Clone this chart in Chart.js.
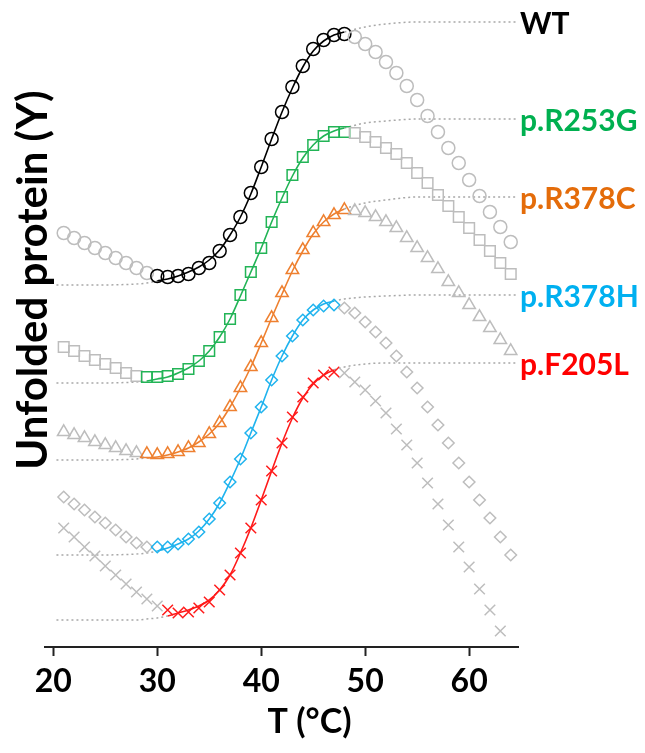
<!DOCTYPE html>
<html>
<head>
<meta charset="utf-8">
<script src="https://cdn.jsdelivr.net/npm/chart.js@4.4.0/dist/chart.umd.min.js"></script>
<style>
  html, body { margin: 0; padding: 0; background: #fff; }
  #wrap { width: 645px; height: 753px; }
</style>
</head>
<body>
<div id="wrap"><canvas id="myChart"></canvas></div>
<script>
// one reading per degree, starting at 21 C
var firstT = 21;

var seriesNames = ['WT', 'p.R253G', 'p.R378C', 'p.R378H', 'p.F205L'];
// temperature window used for the fit (coloured part)
var fitRanges = [[30, 48], [29, 48], [29, 48], [30, 47], [31, 47]];

// measured points (arbitrary units, curves are offset)
var wtPoints = [4.14, 4.09, 4.04, 3.99, 3.94, 3.89, 3.84, 3.79, 3.74,
    3.71, 3.70, 3.71, 3.73, 3.79, 3.84, 3.96, 4.12, 4.30, 4.54, 4.80, 5.08, 5.35, 5.60, 5.81, 5.98, 6.07, 6.12, 6.13,
    6.10, 6.03, 5.95, 5.85, 5.74, 5.61, 5.47, 5.31, 5.15, 4.99, 4.84, 4.67, 4.51, 4.35, 4.20, 4.05];
var r253gPoints = [3.00, 2.96, 2.91, 2.87, 2.83, 2.79, 2.74, 2.71,
    2.70, 2.70, 2.71, 2.73, 2.78, 2.86, 2.96, 3.10, 3.28, 3.52, 3.75, 3.99, 4.25, 4.50, 4.72, 4.90, 5.02, 5.11, 5.15, 5.15,
    5.14, 5.10, 5.05, 4.99, 4.93, 4.84, 4.74, 4.64, 4.52, 4.41, 4.30, 4.19, 4.07, 3.96, 3.84, 3.73];
var r378cPoints = [2.15, 2.12, 2.09, 2.05, 2.02, 1.99, 1.96, 1.94,
    1.93, 1.92, 1.93, 1.95, 1.99, 2.04, 2.13, 2.24, 2.40, 2.59, 2.80, 3.04, 3.29, 3.54, 3.77, 3.97, 4.14, 4.25, 4.32, 4.37,
    4.36, 4.34, 4.30, 4.25, 4.19, 4.09, 3.99, 3.89, 3.78, 3.65, 3.54, 3.42, 3.30, 3.19, 3.07, 2.96];
var r378hPoints = [1.50, 1.43, 1.37, 1.30, 1.24, 1.17, 1.10, 1.04, 1.00,
    1.00, 1.00, 1.03, 1.08, 1.15, 1.28, 1.44, 1.65, 1.88, 2.14, 2.40, 2.67, 2.91, 3.11, 3.27, 3.37, 3.41, 3.42,
    3.39, 3.34, 3.25, 3.15, 3.04, 2.91, 2.75, 2.59, 2.40, 2.22, 2.04, 1.84, 1.65, 1.47, 1.29, 1.10, 0.92];
var f205lPoints = [1.19, 1.10, 1.00, 0.91, 0.81, 0.72, 0.63, 0.55, 0.48, 0.41,
    0.37, 0.34, 0.35, 0.39, 0.45, 0.57, 0.72, 0.94, 1.19, 1.47, 1.76, 2.04, 2.30, 2.50, 2.64, 2.72, 2.75,
    2.74, 2.65, 2.57, 2.46, 2.34, 2.18, 2.02, 1.84, 1.64, 1.43, 1.22, 1.00, 0.80, 0.58, 0.37, 0.16];

var fitTemps = [20.3, 24, 28, 29, 30, 31, 32, 33, 34, 35, 36, 37, 38, 39, 40, 41, 42, 43, 44, 45, 46, 47, 48, 50, 52, 55, 60, 64.6];
var wtFit = [3.62, 3.62, 3.63, 3.64, 3.66, 3.68, 3.71, 3.75, 3.80, 3.87, 3.97, 4.12, 4.30, 4.53, 4.80, 5.08, 5.35, 5.59, 5.80, 5.96, 6.06, 6.12, 6.15, 6.20, 6.23, 6.25, 6.25, 6.25];
var r253gFit = [2.64, 2.64, 2.65, 2.66, 2.68, 2.70, 2.74, 2.79, 2.86, 2.96, 3.10, 3.28, 3.51, 3.75, 3.99, 4.25, 4.49, 4.71, 4.89, 5.02, 5.11, 5.16, 5.19, 5.24, 5.26, 5.28, 5.28, 5.28];
var r378cFit = [1.87, 1.87, 1.88, 1.89, 1.90, 1.92, 1.95, 1.99, 2.05, 2.13, 2.24, 2.40, 2.59, 2.80, 3.04, 3.29, 3.53, 3.76, 3.96, 4.13, 4.25, 4.33, 4.38, 4.44, 4.47, 4.50, 4.50, 4.50];
var r378hFit = [0.92, 0.92, 0.93, 0.94, 0.96, 0.99, 1.03, 1.08, 1.16, 1.28, 1.44, 1.65, 1.88, 2.14, 2.40, 2.67, 2.91, 3.11, 3.27, 3.37, 3.43, 3.46, 3.48, 3.50, 3.51, 3.52, 3.52, 3.52];
var f205lFit = [0.27, 0.27, 0.27, 0.28, 0.29, 0.31, 0.34, 0.37, 0.41, 0.47, 0.57, 0.72, 0.94, 1.19, 1.47, 1.76, 2.04, 2.29, 2.49, 2.63, 2.72, 2.77, 2.80, 2.83, 2.84, 2.84, 2.84, 2.84];

// look
var lineColors = ['#000000', '#22B456', '#EE8030', '#1FB3EE', '#FF1A1A'];
var labelColors = ['#000000', '#00B050', '#E46C0A', '#00B0F0', '#FF0000'];
var pointStyles = ['circle', 'rect', 'triangle', 'rectRot', 'crossRot'];
var pointSizes = [6.5, 7.5, 7.2, 5.8, 7.5];
var markGray = '#BDBDBD';
var dotGray = '#A8A8A8';
var fontName = 'Lato';

var allPoints = [wtPoints, r253gPoints, r378cPoints, r378hPoints, f205lPoints];
var allFits = [wtFit, r253gFit, r378cFit, r378hFit, f205lFit];

var datasets = [];
for (let i = 0; i < seriesNames.length; i++) {
    let lo = fitRanges[i][0], hi = fitRanges[i][1];
    let col = lineColors[i];
    let inFit = c => c.p0.parsed.x >= lo && c.p1.parsed.x <= hi;

    datasets.push({
        label: seriesNames[i] + ' fit',
        data: fitTemps.map((t, j) => ({ x: t, y: allFits[i][j] })),
        pointRadius: 0,
        borderWidth: 1.6,
        borderColor: dotGray,
        fill: false,
        cubicInterpolationMode: 'monotone',
        segment: {
            borderColor: c => inFit(c) ? col : dotGray,
            borderDash: c => inFit(c) ? [] : [2, 3],
            borderWidth: c => inFit(c) ? 1.6 : 1.5
        },
        order: 2
    });

    datasets.push({
        label: seriesNames[i],
        data: allPoints[i].map((v, j) => ({ x: firstT + j, y: v })),
        showLine: false,
        pointStyle: pointStyles[i],
        pointRadius: pointSizes[i],
        pointBorderWidth: 1.5,
        pointBackgroundColor: 'rgba(0,0,0,0)',
        pointBorderColor: c => {
            let t = c.raw ? c.raw.x : 0;
            return (t >= lo && t <= hi) ? col : markGray;
        },
        order: 1
    });
}

// series names at the right end of each fit + the two axis titles
var labelsPlugin = {
    id: 'labelsPlugin',
    afterDraw: function(chart) {
        var ctx = chart.ctx;
        var area = chart.chartArea;
        var y = chart.scales.y;
        ctx.save();
        ctx.textAlign = 'left';
        ctx.textBaseline = 'middle';
        ctx.font = 'bold 30px ' + fontName;
        for (var i = 0; i < seriesNames.length; i++) {
            var fit = allFits[i];
            ctx.fillStyle = labelColors[i];
            ctx.fillText(seriesNames[i], area.right + 2, y.getPixelForValue(fit[fit.length - 1]) + 2);
        }

        ctx.fillStyle = '#000';
        ctx.textAlign = 'center';
        ctx.font = 'bold 34px ' + fontName;
        ctx.fillText('T (°C)', (area.left + area.right) / 2 + 28, 722);

        ctx.translate(33, 280);
        ctx.rotate(-Math.PI / 2);
        ctx.font = 'bold 42px ' + fontName;
        ctx.fillText('Unfolded protein (Y)', 0, 0);
        ctx.restore();
    }
};

var ctx = document.getElementById('myChart').getContext('2d');
var chart = new Chart(ctx, {
    type: 'line',
    data: { datasets: datasets },
    options: {
        responsive: true,
        maintainAspectRatio: false,
        animation: false,
        layout: { padding: { left: 45, right: 127, top: 17, bottom: 0 } },
        plugins: {
            legend: { display: false },
            tooltip: { enabled: false }
        },
        scales: {
            x: {
                type: 'linear',
                min: 19.2,
                max: 64.7,
                ticks: {
                    stepSize: 10,
                    includeBounds: false,
                    maxRotation: 0,
                    color: '#000',
                    padding: 6,
                    font: { family: fontName, size: 32, weight: 'bold' }
                },
                grid: {
                    drawOnChartArea: false,
                    drawTicks: true,
                    tickLength: 9,
                    tickWidth: 2,
                    tickColor: '#222'
                },
                border: { display: true, color: '#222', width: 2 },
                afterFit: function(s) { s.height = 106; }
            },
            y: { display: false, min: 0, max: 6.3 }
        }
    },
    plugins: [labelsPlugin]
});
</script>
</body>
</html>
